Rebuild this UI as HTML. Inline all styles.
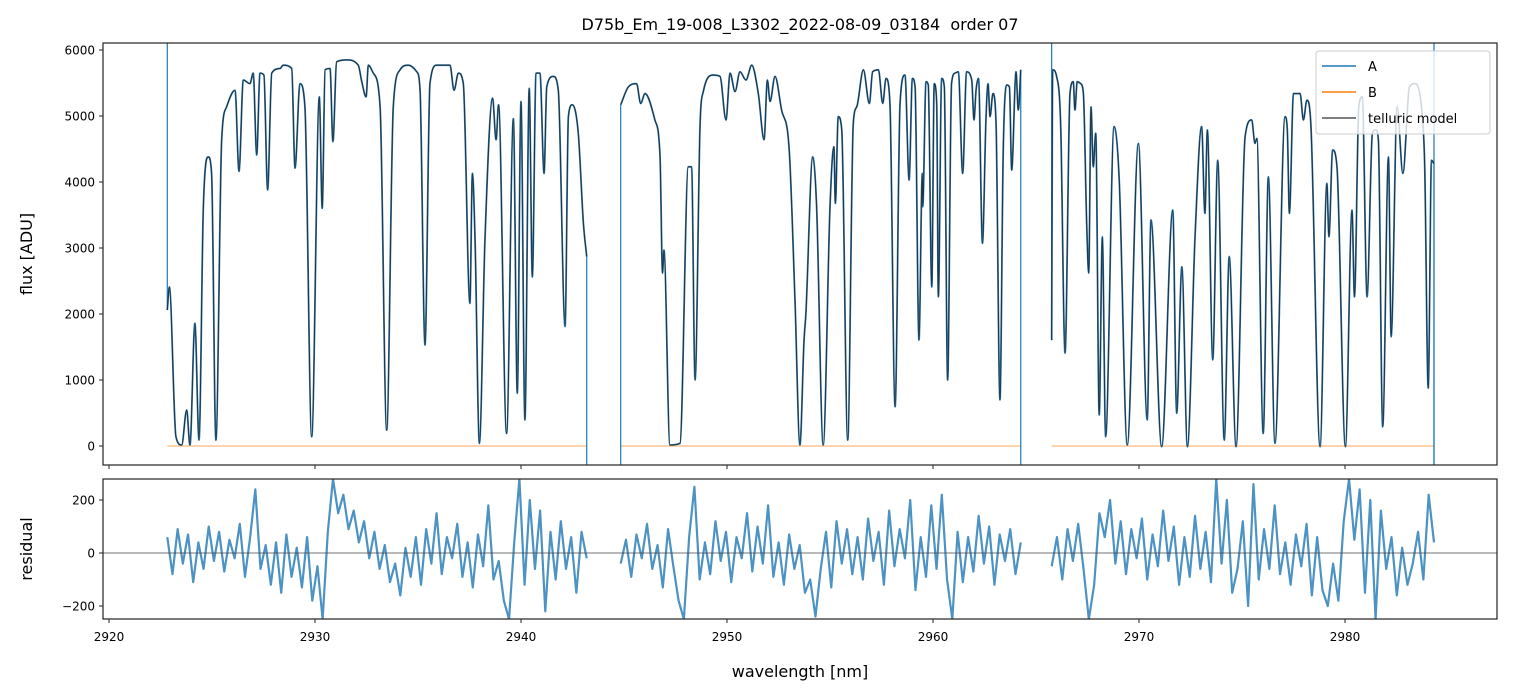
<!DOCTYPE html>
<html><head><meta charset="utf-8">
<style>
html,body{margin:0;padding:0;background:#fff;}
svg{display:block;font-family:"DejaVu Sans","Liberation Sans",sans-serif;}
</style></head>
<body>
<svg id="chart" width="1513" height="696" viewBox="0 0 1513 696" xmlns="http://www.w3.org/2000/svg">
<defs>
<clipPath id="clipTop"><rect x="103" y="43" width="1394" height="422"/></clipPath>
<clipPath id="clipBot"><rect x="103" y="479" width="1394" height="140"/></clipPath>
</defs>
<text x="800" y="30" text-anchor="middle" font-size="16" fill="#000">D75b_Em_19-008_L3302_2022-08-09_03184&#160; order 07</text>
<g id="topMarks" clip-path="url(#clipTop)"></g>
<g id="botMarks" clip-path="url(#clipBot)"></g>
<rect x="103" y="43" width="1394" height="422" fill="none" stroke="#222" stroke-width="1.2"/>
<rect x="103" y="479" width="1394" height="140" fill="none" stroke="#222" stroke-width="1.2"/>
<g id="axes" font-size="12" fill="#000"></g>
<text transform="translate(32,254) rotate(-90)" text-anchor="middle" font-size="16">flux [ADU]</text>
<text transform="translate(32,549) rotate(-90)" text-anchor="middle" font-size="16">residual</text>
<text x="800" y="677" text-anchor="middle" font-size="16">wavelength [nm]</text>
<g>
<rect x="1316" y="51" width="174" height="83" rx="3" fill="rgba(255,255,255,0.8)" stroke="#ccc"/>
<line x1="1322" y1="66" x2="1356" y2="66" stroke="#1f77b4" stroke-width="1.6"/>
<text x="1368" y="71" font-size="13">A</text>
<line x1="1322" y1="92" x2="1356" y2="92" stroke="#ff7f0e" stroke-width="1.6"/>
<text x="1368" y="97" font-size="13">B</text>
<line x1="1322" y1="118" x2="1356" y2="118" stroke="#555" stroke-width="1.6"/>
<text x="1368" y="123" font-size="13">telluric model</text>
</g>
</svg>
<script>
// ---- data ----
const xTicks = [2920,2930,2940,2950,2960,2970,2980];
const fluxTicks = [0,1000,2000,3000,4000,5000,6000];
const residTicks = [-200,0,200];
const segStarts = [2922.83, 2944.84, 2965.76];
const segEnds = [2943.19, 2964.26, 2984.32];

const wl1 = [2922.83,2922.93,2923.25,2923.53,2923.77,2923.93,2924.17,2924.37,2924.58,2924.82,2924.98,2925.19,2925.47,2925.71,2926.12,2926.31,2926.52,2926.84,2927.0,2927.17,2927.33,2927.52,2927.70,2927.90,2928.30,2928.46,2928.87,2929.03,2929.27,2929.51,2929.84,2930.21,2930.35,2930.49,2930.73,2930.87,2931.05,2931.53,2932.10,2932.27,2932.48,2932.59,2932.83,2933.16,2933.48,2933.80,2934.13,2934.53,2934.94,2935.10,2935.34,2935.58,2935.91,2936.55,2936.75,2936.96,2937.20,2937.52,2937.64,2937.77,2937.98,2938.25,2938.62,2938.79,2938.91,2939.30,2939.63,2939.82,2940.0,2940.19,2940.40,2940.55,2940.73,2940.92,2941.12,2941.25,2941.57,2941.81,2942.14,2942.30,2942.49,2942.78,2943.03,2943.19];
const flux1 = [2060,2410,140,15,545,15,1860,90,3625,4380,4130,90,4640,5140,5390,4160,5545,5490,5650,4410,5650,5620,3880,5650,5720,5770,5720,4210,5490,5140,140,5290,3600,5700,5720,4610,5820,5850,5770,5520,5290,5770,5650,5140,240,5140,5700,5770,5670,5390,1530,5490,5770,5770,5390,5650,5490,2160,4130,3120,40,3120,5270,4640,5170,190,4960,800,5220,395,5420,2560,5650,5650,4130,5440,5600,5390,1810,4990,5170,4740,3370,2870];
const wl2 = [2944.84,2945.21,2945.61,2945.81,2946.02,2946.50,2946.75,2946.87,2946.94,2947.23,2947.72,2948.12,2948.28,2948.45,2948.69,2948.85,2949.33,2949.66,2949.95,2950.15,2950.39,2950.63,2950.92,2951.20,2951.52,2951.80,2951.96,2952.09,2952.33,2952.65,2953.02,2953.30,2953.54,2953.74,2953.83,2954.16,2954.35,2954.67,2955.0,2955.19,2955.26,2955.40,2955.57,2955.86,2956.13,2956.30,2956.62,2956.91,2957.07,2957.35,2957.56,2957.72,2957.91,2958.16,2958.40,2958.64,2958.84,2959.0,2959.13,2959.32,2959.48,2959.50,2959.66,2959.77,2959.94,2960.06,2960.18,2960.26,2960.42,2960.55,2960.71,2960.90,2961.07,2961.23,2961.44,2961.63,2961.88,2961.99,2962.09,2962.21,2962.40,2962.57,2962.67,2962.77,2962.91,2963.06,2963.25,2963.41,2963.58,2963.71,2963.82,2964.03,2964.14,2964.26];
const flux2 = [5170,5440,5490,5190,5340,4940,4380,2620,2970,15,40,4230,4230,1000,4840,5370,5620,5600,4940,5650,5370,5670,5545,5770,5340,4640,5545,5220,5600,5090,4485,2210,15,1605,2010,4380,3625,15,3625,4535,3675,4990,4790,90,4890,5140,5700,5190,5670,5700,5190,5570,5190,595,5190,5620,4030,5570,5440,1605,4130,3625,5520,5470,2410,5490,5190,2260,5570,5440,1000,5490,5650,5670,4130,5670,5545,4940,5390,5570,3070,4940,5490,4990,5340,4890,700,4485,5470,5440,4180,5670,5090,5700];
const wl3 = [2965.76,2965.81,2966.0,2966.20,2966.41,2966.65,2966.81,2966.89,2967.0,2967.17,2967.30,2967.46,2967.56,2967.67,2967.78,2967.90,2968.07,2968.22,2968.38,2968.79,2969.04,2969.43,2969.97,2970.40,2970.58,2971.10,2971.64,2971.83,2972.08,2972.35,2972.72,2973.04,2973.20,2973.32,2973.58,2973.82,2974.14,2974.38,2974.71,2975.15,2975.47,2975.63,2975.72,2976.03,2976.28,2976.60,2977.09,2977.20,2977.30,2977.50,2977.82,2977.98,2978.15,2978.34,2978.79,2979.12,2979.22,2979.40,2979.61,2980.02,2980.34,2980.46,2980.67,2980.84,2981.07,2981.33,2981.50,2981.62,2981.83,2982.11,2982.24,2982.53,2982.81,2983.13,2983.38,2983.71,2983.87,2984.04,2984.20,2984.32];
const flux3 = [1605,5700,5600,4840,1405,5340,5520,5090,5520,5490,5340,3370,2620,5140,4230,4740,470,3170,140,4840,4030,15,4585,395,3425,-10,3575,495,2715,-10,3170,4840,3525,4790,1305,4330,90,2870,-10,4685,4940,4585,4660,190,4080,40,4990,4790,3525,5340,5340,4940,5240,4890,-10,3980,3170,4485,4230,-10,3575,2260,5140,5290,2260,4740,4790,4640,290,4380,1655,5140,4130,5440,5490,5140,4230,875,4330,4280];
const edgeStartA = [6500, -600, 6500];
const edgeEndA = [-600, -600, -600];
const edgeEndExtraA = [null, null, 6500];
const bLevel = [0, 0, 0];

const resid1 = [60,-80,90,-40,70,-110,40,-60,100,-30,80,-70,50,-20,110,-90,60,240,-60,30,-120,40,-150,70,-90,20,-130,60,-180,-50,-250,80,280,150,220,90,160,40,120,-20,80,-60,30,-110,-40,-160,20,-90,60,-120,90,-40,150,-80,60,-20,110,-90,40,-130,70,-50,180,-100,-30,-180,-250,40,280,-120,200,-60,160,-220,80,-100,120,-60,60,-150,80,-20];
const resid2 = [-40,50,-90,70,-20,110,-60,30,-130,90,-50,-180,-250,60,250,-100,40,-80,120,-30,80,-110,60,-20,150,-70,100,-40,180,-90,40,-120,70,-60,30,-150,-100,-240,-60,80,-130,120,-40,90,-80,60,-100,130,-30,80,-120,160,-50,90,-20,200,-140,60,-90,180,-60,220,-100,-250,80,-110,60,-70,140,-40,100,-120,70,-30,90,-80,40];
const resid3 = [-50,60,-100,90,-30,110,-60,-250,-120,150,60,200,-40,120,-80,90,-20,130,-100,70,-50,160,-30,100,-120,60,-90,140,-60,80,-110,280,-40,200,-150,-60,120,-200,260,-100,90,-60,180,-80,40,-120,70,-50,110,-160,60,-140,-200,-40,-180,120,280,50,240,-150,200,-250,160,-60,60,-160,20,-120,-40,80,-100,220,40];

// ---- scales ----
const X0 = 2920, XPX0 = 109, XPPU = 20.6;
const xs = v => XPX0 + (v - X0) * XPPU;
const yTop = v => 446 - v * 0.066;
const yBot = v => 553 - v * 0.265;
const NS = 'http://www.w3.org/2000/svg';
const topG = document.getElementById('topMarks');
const botG = document.getElementById('botMarks');
const axG = document.getElementById('axes');

function mk(tag, attrs, parent){
  const e = document.createElementNS(NS, tag);
  for (const k in attrs) e.setAttribute(k, attrs[k]);
  parent.appendChild(e);
  return e;
}
function pts(xa, ya, fy){ return xa.map((x,i)=>xs(x).toFixed(2)+','+fy(ya[i]).toFixed(2)).join(' '); }
// monotone cubic path (Fritsch-Carlson)
function monoPath(xa, ya, fy){
  const X = xa.map(xs), Y = ya.map(fy), n = X.length;
  const d = [], m = [];
  for (let i=0;i<n-1;i++){ const h = X[i+1]-X[i]; d.push(h>0?(Y[i+1]-Y[i])/h:0); }
  m[0]=d[0]; m[n-1]=d[n-2];
  for (let i=1;i<n-1;i++){ m[i] = (d[i-1]*d[i] <= 0) ? 0 : (d[i-1]+d[i])/2; }
  for (let i=0;i<n-1;i++){
    if (d[i]===0){ m[i]=0; m[i+1]=0; continue; }
    const a=m[i]/d[i], b=m[i+1]/d[i], s=a*a+b*b;
    if (s>9){ const t=3/Math.sqrt(s); m[i]=t*a*d[i]; m[i+1]=t*b*d[i]; }
  }
  let p = 'M'+X[0].toFixed(2)+','+Y[0].toFixed(2);
  for (let i=0;i<n-1;i++){
    const h = (X[i+1]-X[i])/3;
    p += ' C'+(X[i]+h).toFixed(2)+','+(Y[i]+m[i]*h).toFixed(2)+' '+(X[i+1]-h).toFixed(2)+','+(Y[i+1]-m[i+1]*h).toFixed(2)+' '+X[i+1].toFixed(2)+','+Y[i+1].toFixed(2);
  }
  return p;
}

const wls = [wl1, wl2, wl3];
const fluxes = [flux1, flux2, flux3];
const resids = [resid1, resid2, resid3];

for (let s = 0; s < 3; s++) {
  const b = mk('line', {x1: xs(segStarts[s]), x2: xs(segEnds[s]), y1: yTop(bLevel[s]), y2: yTop(bLevel[s]), stroke: '#ff7f0e', 'stroke-opacity': 0.55, 'stroke-width': 1.2}, topG);
  
  
  // A series edge artefacts
  const n = wls[s].length;
  const e1 = mk('line', {x1: xs(wls[s][0]), x2: xs(wls[s][0]), y1: yTop(edgeStartA[s]), y2: yTop(fluxes[s][0]), stroke: '#1f77b4', 'stroke-width': 1.2}, topG);
  
  
  const e2 = mk('line', {x1: xs(wls[s][n-1]), x2: xs(wls[s][n-1]), y1: yTop(fluxes[s][n-1]), y2: yTop(edgeEndA[s]), stroke: '#1f77b4', 'stroke-width': 1.2}, topG);
  
  
  if (edgeEndExtraA[s] !== null) {
    const e3 = mk('line', {x1: xs(wls[s][n-1]), x2: xs(wls[s][n-1]), y1: yTop(edgeEndExtraA[s]), y2: yTop(edgeEndA[s]), stroke: '#1f77b4', 'stroke-width': 1.2}, topG);
    
    
  }
  const a = mk('path', {d: monoPath(wls[s], fluxes[s], yTop), fill: 'none', stroke: '#1f77b4', 'stroke-width': 1.8, 'stroke-opacity': 0.9}, topG);
  
  
  const m = mk('path', {d: monoPath(wls[s], fluxes[s], yTop), fill: 'none', stroke: '#1a1a1a', 'stroke-opacity': 0.75, 'stroke-width': 1.1}, topG);
  
  
  const r = resids[s];
  const step = (segEnds[s] - segStarts[s]) / (r.length - 1);
  const rw = r.map((v,i)=>segStarts[s] + i*step);
  const rl = mk('polyline', {points: pts(rw, r, yBot), fill: 'none', stroke: '#1f77b4', 'stroke-opacity': 0.8, 'stroke-width': 2.2, 'stroke-linejoin': 'round'}, botG);
  
  
}
const zl = mk('line', {x1: 103, x2: 1497, y1: yBot(0), y2: yBot(0), stroke: '#444', 'stroke-width': 0.7}, botG);



xTicks.forEach(t => {
  const x = xs(t);
  const t1 = mk('line', {x1: x, x2: x, y1: 465, y2: 469, stroke: '#222'}, axG);
  
  
  const t2 = mk('line', {x1: x, x2: x, y1: 619, y2: 623, stroke: '#222'}, axG);
  
  
  const lb = mk('text', {x: x, y: 641, 'text-anchor': 'middle'}, axG);
  lb.textContent = t;
  
  
});
fluxTicks.forEach(t => {
  const y = yTop(t);
  const tk = mk('line', {x1: 99, x2: 103, y1: y, y2: y, stroke: '#222'}, axG);
  
  
  const lb = mk('text', {x: 95, y: y + 4.5, 'text-anchor': 'end'}, axG);
  lb.textContent = t;
  
  
});
residTicks.forEach(t => {
  const y = yBot(t);
  const tk = mk('line', {x1: 99, x2: 103, y1: y, y2: y, stroke: '#222'}, axG);
  
  
  const lb = mk('text', {x: 95, y: y + 4.5, 'text-anchor': 'end'}, axG);
  lb.textContent = (t < 0 ? '\u2212' + (-t) : t);
  
  
});
</script>
</body></html>
